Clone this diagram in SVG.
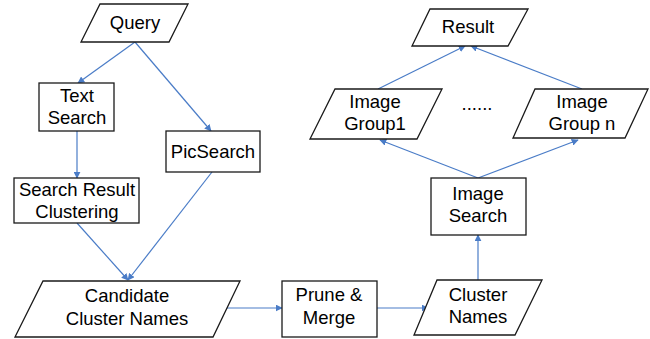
<svg xmlns="http://www.w3.org/2000/svg" width="650" height="339" viewBox="0 0 650 339">
  <style>
    .shape { fill: #ffffff; stroke: #1a1a1a; stroke-width: 1.3; }
    .label { font-family: "Liberation Sans", Arial, sans-serif; font-size: 18.5px; fill: #000000; text-anchor: middle; }
    .edge { fill: none; stroke: #4a7cc7; stroke-width: 1.2; marker-end: url(#arrow); }
  </style>
  <defs>
    <marker id="arrow" viewBox="0 0 10 10" refX="9" refY="5" markerWidth="7" markerHeight="7" markerUnits="userSpaceOnUse" orient="auto">
      <path d="M0,0 L10,5 L0,10 z" fill="#4a7cc7"/>
    </marker>
  </defs>
  <rect width="650" height="339" fill="#ffffff"/>

  <!-- connectors -->
  <g id="connectors">
    <line class="edge" x1="135" y1="42" x2="78" y2="83"/>
    <line class="edge" x1="135" y1="42" x2="211" y2="131"/>
    <line class="edge" x1="77" y1="131" x2="77" y2="178"/>
    <line class="edge" x1="77" y1="223" x2="128" y2="280"/>
    <line class="edge" x1="212" y1="172" x2="128" y2="280"/>
    <line class="edge" x1="227" y1="308" x2="282" y2="308"/>
    <line class="edge" x1="377" y1="308" x2="428" y2="308"/>
    <line class="edge" x1="478" y1="280" x2="478" y2="235"/>
    <line class="edge" x1="478" y1="178" x2="380" y2="140"/>
    <line class="edge" x1="478" y1="178" x2="578" y2="140"/>
    <line class="edge" x1="378" y1="89" x2="465" y2="46"/>
    <line class="edge" x1="582" y1="89" x2="471" y2="46"/>
  </g>

  <!-- nodes -->
  <g id="query">
    <polygon class="shape" points="100,4 188,4 169,42 81,42"/>
    <text class="label" x="135" y="29">Query</text>
  </g>
  <g id="text-search">
    <rect class="shape" x="39" y="83" width="75" height="48"/>
    <text class="label" x="77" y="102">Text</text>
    <text class="label" x="77" y="124">Search</text>
  </g>
  <g id="pic-search">
    <rect class="shape" x="166" y="131" width="94" height="41"/>
    <text class="label" x="213" y="158">PicSearch</text>
  </g>
  <g id="search-result-clustering">
    <rect class="shape" x="14" y="178" width="125" height="45"/>
    <text class="label" x="77" y="196">Search Result</text>
    <text class="label" x="77" y="218">Clustering</text>
  </g>
  <g id="candidate-cluster-names">
    <polygon class="shape" points="43,281 240,281 213,337 15,337"/>
    <text class="label" x="127" y="302">Candidate</text>
    <text class="label" x="127" y="325">Cluster Names</text>
  </g>
  <g id="prune-merge">
    <rect class="shape" x="282" y="281" width="95" height="56"/>
    <text class="label" x="329" y="301">Prune &amp;</text>
    <text class="label" x="329" y="324">Merge</text>
  </g>
  <g id="cluster-names">
    <polygon class="shape" points="437,280 542,280 515,335 414,335"/>
    <text class="label" x="478" y="301">Cluster</text>
    <text class="label" x="478" y="323">Names</text>
  </g>
  <g id="image-search">
    <rect class="shape" x="431" y="178" width="95" height="57"/>
    <text class="label" x="478" y="200">Image</text>
    <text class="label" x="478" y="222">Search</text>
  </g>
  <g id="image-group-1">
    <polygon class="shape" points="335,89 442,89 417,139 310,139"/>
    <text class="label" x="375" y="108">Image</text>
    <text class="label" x="375" y="130">Group1</text>
  </g>
  <g id="ellipsis">
    <text class="label" x="477" y="110">......</text>
  </g>
  <g id="image-group-n">
    <polygon class="shape" points="535,89 648,89 625,138 513,138"/>
    <text class="label" x="582" y="108">Image</text>
    <text class="label" x="582" y="130">Group n</text>
  </g>
  <g id="result">
    <polygon class="shape" points="430,9 528,9 508,46 412,46"/>
    <text class="label" x="468" y="33">Result</text>
  </g>
</svg>
